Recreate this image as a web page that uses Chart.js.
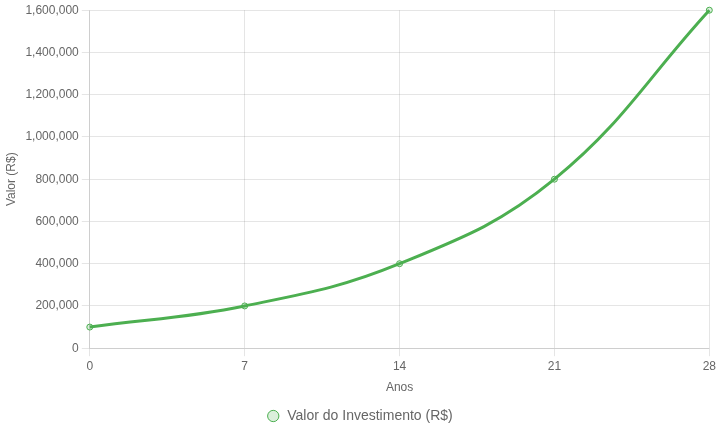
<!DOCTYPE html>
<html>
<head>
<meta charset="utf-8">
<script src="https://cdn.jsdelivr.net/npm/chart.js@4"></script>
<style>
  html, body { margin: 0; padding: 0; background: #fff; }
  #wrap { width: 719px; height: 433px; position: relative; }
</style>
</head>
<body>
<div id="wrap"><canvas id="chart"></canvas></div>
<script>
const anos = ["0", "7", "14", "21", "28"];
const valores = [100000, 200000, 400000, 800000, 1600000];

const ctx = document.getElementById("chart").getContext("2d");

new Chart(ctx, {
    type: "line",
    data: {
        labels: anos,
        datasets: [
            {
                label: "Valor do Investimento (R$)",
                data: valores,
                borderColor: "#4CAF50",
                backgroundColor: "rgba(76, 175, 80, 0.2)",
                borderWidth: 3,
                tension: 0.4,
                pointRadius: 3,
                pointBorderWidth: 1
            }
        ]
    },
    options: {
        responsive: true,
        maintainAspectRatio: false,
        animation: false,
        plugins: {
            legend: {
                position: "bottom",
                labels: {
                    usePointStyle: true,
                    boxHeight: 8,
                    font: { size: 14 }
                }
            }
        },
        scales: {
            x: {
                title: { display: true, text: "Anos" }
            },
            y: {
                beginAtZero: true,
                title: { display: true, text: "Valor (R$)" }
            }
        }
    }
});
</script>
</body>
</html>
